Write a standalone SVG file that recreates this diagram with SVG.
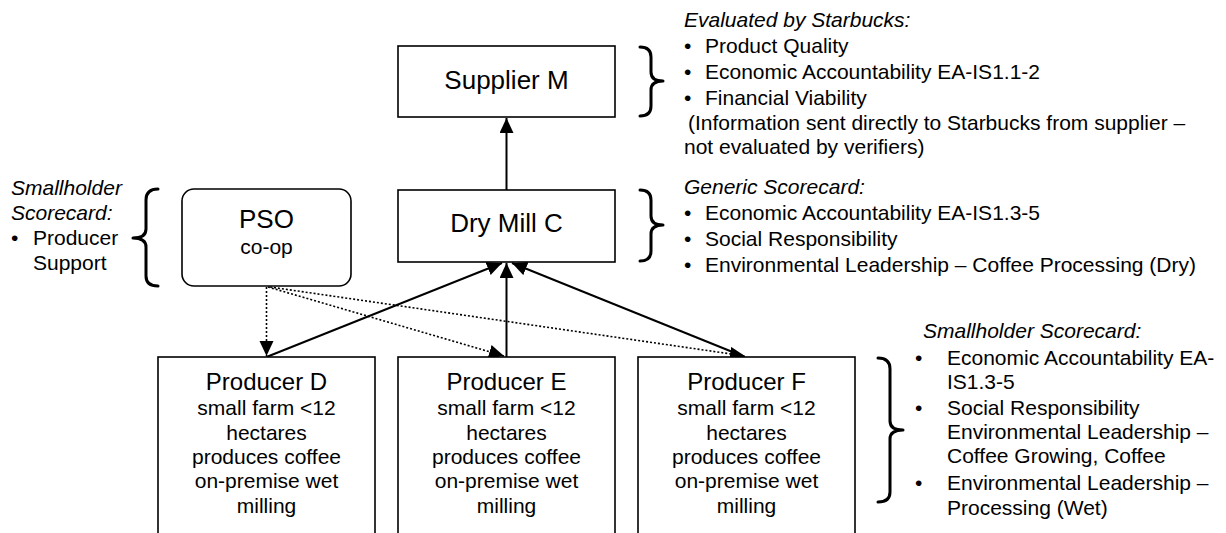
<svg xmlns="http://www.w3.org/2000/svg" width="1226" height="533" viewBox="0 0 1226 533">
  <style>
    text { font-family: "Liberation Sans", Arial, sans-serif; fill: #000; }
    .box { fill: #fff; stroke: #000; stroke-width: 1.6; }
    .t26 { font-size: 26px; text-anchor: middle; }
    .t24 { font-size: 24px; text-anchor: middle; }
    .t21c { font-size: 21px; text-anchor: middle; }
    .t21 { font-size: 21px; }
    .hd { font-size: 21px; font-style: italic; }
    .brace { fill: none; stroke: #000; stroke-width: 3; stroke-linejoin: round; stroke-linecap: round; }
    .solid { fill: none; stroke: #000; stroke-width: 2; }
    .dot { fill: none; stroke: #000; stroke-width: 1.6; stroke-dasharray: 2 2; }
  </style>
  <defs>
    <marker id="arrow" markerUnits="userSpaceOnUse" markerWidth="16" markerHeight="15" refX="15" refY="7" orient="auto">
      <path d="M0,0 L15,7 L0,14 z" fill="#000"/>
    </marker>
  </defs>

  <rect width="1226" height="533" fill="#fff"/>

  <!-- connectors -->
  <g id="connectors">
    <line class="solid" x1="506.5" y1="190" x2="506.5" y2="118" marker-end="url(#arrow)"/>
    <line class="solid" x1="266.5" y1="357" x2="502" y2="263" marker-end="url(#arrow)"/>
    <line class="solid" x1="506.5" y1="357" x2="506.5" y2="263" marker-end="url(#arrow)"/>
    <line class="solid" x1="745" y1="357" x2="512" y2="263" marker-end="url(#arrow)"/>
    <line class="dot" x1="266.5" y1="287" x2="266.5" y2="356" marker-end="url(#arrow)"/>
    <line class="dot" x1="268" y1="287" x2="504" y2="356" marker-end="url(#arrow)"/>
    <line class="dot" x1="270" y1="287" x2="745" y2="356" marker-end="url(#arrow)"/>
  </g>

  <!-- Supplier M -->
  <g id="supplier-m">
    <rect class="box" x="398" y="46" width="217" height="71"/>
    <text class="t26" x="506.5" y="89">Supplier M</text>
  </g>

  <!-- Dry Mill C -->
  <g id="dry-mill-c">
    <rect class="box" x="398" y="190" width="217" height="72"/>
    <text class="t26" x="506.5" y="232">Dry Mill C</text>
  </g>

  <!-- PSO co-op -->
  <g id="pso">
    <rect class="box" x="182" y="189" width="169" height="97" rx="12" ry="12"/>
    <text class="t26" x="266.5" y="228">PSO</text>
    <text class="t21c" x="266.5" y="254">co-op</text>
  </g>

  <!-- Producers -->
  <g id="producer-d">
    <rect class="box" x="158" y="357" width="217" height="190"/>
    <text class="t24" x="266.5" y="390">Producer D</text>
    <text class="t21c" x="266.5" y="415">small farm &lt;12</text>
    <text class="t21c" x="266.5" y="440">hectares</text>
    <text class="t21c" x="266.5" y="464">produces coffee</text>
    <text class="t21c" x="266.5" y="488">on-premise wet</text>
    <text class="t21c" x="266.5" y="513">milling</text>
  </g>
  <g id="producer-e">
    <rect class="box" x="398" y="357" width="217" height="190"/>
    <text class="t24" x="506.5" y="390">Producer E</text>
    <text class="t21c" x="506.5" y="415">small farm &lt;12</text>
    <text class="t21c" x="506.5" y="440">hectares</text>
    <text class="t21c" x="506.5" y="464">produces coffee</text>
    <text class="t21c" x="506.5" y="488">on-premise wet</text>
    <text class="t21c" x="506.5" y="513">milling</text>
  </g>
  <g id="producer-f">
    <rect class="box" x="638" y="357" width="217" height="190"/>
    <text class="t24" x="746.5" y="390">Producer F</text>
    <text class="t21c" x="746.5" y="415">small farm &lt;12</text>
    <text class="t21c" x="746.5" y="440">hectares</text>
    <text class="t21c" x="746.5" y="464">produces coffee</text>
    <text class="t21c" x="746.5" y="488">on-premise wet</text>
    <text class="t21c" x="746.5" y="513">milling</text>
  </g>

  <!-- braces -->
  <g id="braces">
    <path class="brace" d="M640,47 Q651,47 651,57 L651,72 Q651,81 663,81 Q651,81 651,90 L651,106 Q651,116 640,116"/>
    <path class="brace" d="M640,190 Q651,190 651,200 L651,216 Q651,225 663,225 Q651,225 651,234 L651,251 Q651,261 640,261"/>
    <path class="brace" d="M158,189 Q146,189 146,200 L146,229 Q146,238 133,238 Q146,238 146,247 L146,276 Q146,286 158,286"/>
    <path class="brace" d="M878,358 Q890,358 890,369 L890,421 Q890,430 903,430 Q890,430 890,439 L890,492 Q890,502 878,502"/>
  </g>

  <!-- scorecard notes -->
  <g id="note-starbucks">
    <text class="hd" x="684" y="27">Evaluated by Starbucks:</text>
    <text class="t21" x="684" y="53">•</text><text class="t21" x="705" y="53">Product Quality</text>
    <text class="t21" x="684" y="79">•</text><text class="t21" x="705" y="79">Economic Accountability EA-IS1.1-2</text>
    <text class="t21" x="684" y="105">•</text><text class="t21" x="705" y="105">Financial Viability</text>
    <text class="t21" x="688" y="130">(Information sent directly to Starbucks from supplier –</text>
    <text class="t21" x="684" y="154">not evaluated by verifiers)</text>
  </g>
  <g id="note-generic">
    <text class="hd" x="684" y="194">Generic Scorecard:</text>
    <text class="t21" x="684" y="220">•</text><text class="t21" x="705" y="220">Economic Accountability EA-IS1.3-5</text>
    <text class="t21" x="684" y="246">•</text><text class="t21" x="705" y="246">Social Responsibility</text>
    <text class="t21" x="684" y="272">•</text><text class="t21" x="705" y="272">Environmental Leadership – Coffee Processing (Dry)</text>
  </g>
  <g id="note-pso">
    <text class="hd" x="11" y="195">Smallholder</text>
    <text class="hd" x="11" y="220">Scorecard:</text>
    <text class="t21" x="11" y="245">•</text><text class="t21" x="33" y="245">Producer</text>
    <text class="t21" x="33" y="270">Support</text>
  </g>
  <g id="note-producers">
    <text class="hd" x="923" y="338">Smallholder Scorecard:</text>
    <text class="t21" x="915" y="365">•</text><text class="t21" x="947" y="365">Economic Accountability EA-</text>
    <text class="t21" x="947" y="389">IS1.3-5</text>
    <text class="t21" x="915" y="415">•</text><text class="t21" x="947" y="415">Social Responsibility</text>
    <text class="t21" x="947" y="439">Environmental Leadership –</text>
    <text class="t21" x="947" y="463">Coffee Growing, Coffee</text>
    <text class="t21" x="915" y="490">•</text><text class="t21" x="947" y="490">Environmental Leadership –</text>
    <text class="t21" x="947" y="515">Processing (Wet)</text>
  </g>
</svg>
